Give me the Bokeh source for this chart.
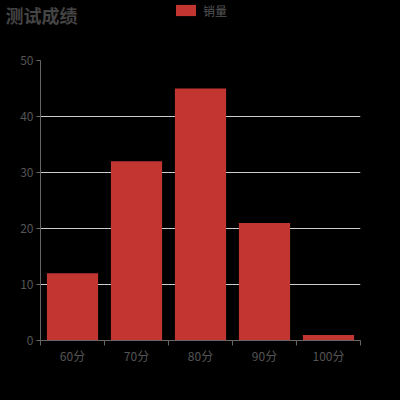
from bokeh.plotting import figure
from bokeh.layouts import column
from bokeh.models import (Range1d, LinearAxis, FixedTicker,
                          Legend, LegendItem, ColumnDataSource)
from bokeh.core.properties import value
from bokeh.embed import file_html
from bokeh.resources import INLINE

# ---- data ----
title_text = "测试成绩"
series_name = "销量"
categories = ["60分", "70分", "80分", "90分", "100分"]
values = [12, 32, 45, 21, 1]
y_ticks = [0, 10, 20, 30, 40, 50]

FONT = "Noto Sans CJK SC"
BAR = "#c23531"
TXT = "#555555"
AXL = "#666666"

n = len(categories)
centers = [i + 0.5 for i in range(n)]
src = ColumnDataSource(dict(x=centers, top=values, cat=categories))

# ---- header (title + legend); frame is aligned with the main frame (320px wide) ----
HH = 40
head = figure(width=400, height=HH, x_range=Range1d(0, 320), y_range=Range1d(HH, 0),
              output_backend="svg", toolbar_location=None,
              x_axis_location=None, y_axis_location=None, min_border=0,
              styles={"margin-left": "-35px"})
head.background_fill_color = "black"
head.border_fill_color = "black"
head.outline_line_color = None
head.grid.visible = False
head.text(x=[0], y=[1], text=[title_text], text_font=value(FONT), text_font_style="bold",
          text_font_size="18px", text_color="#444444", text_baseline="top", text_align="left")
swatch = head.vbar(x="x", top=0, bottom=0, width=0.8, source=src, fill_color=BAR,
                   line_color=None, border_radius=4)
legend = Legend(items=[LegendItem(label=series_name, renderers=[swatch])],
                location=(168, HH - 18.7), orientation="horizontal", padding=0, margin=0,
                border_line_color=None, background_fill_alpha=0, glyph_width=25, glyph_height=14,
                label_height=14, label_standoff=5, label_text_font=FONT,
                label_text_font_size="12px", label_text_color=TXT, label_text_baseline="middle")
head.add_layout(legend, "center")

# ---- main chart ----
p = figure(width=400, height=360, x_range=Range1d(0, n),
           y_range=Range1d(0, 50), output_backend="svg", toolbar_location=None,
           x_axis_location=None, y_axis_location=None,
           min_border_left=40, min_border_right=40, min_border_top=20, min_border_bottom=60)
p.background_fill_color = "black"
p.border_fill_color = "black"
p.outline_line_color = None

p.vbar(x="x", top="top", width=0.8, source=src, fill_color=BAR, line_color=None)

yax = LinearAxis(ticker=FixedTicker(ticks=y_ticks))
yax.axis_line_color = AXL
yax.major_tick_line_color = AXL
yax.major_tick_out = 4
yax.major_tick_in = 0
yax.minor_tick_line_color = None
yax.major_label_text_color = TXT
yax.major_label_text_font = FONT
yax.major_label_text_font_size = "12px"
yax.major_label_standoff = 3
p.add_layout(yax, "left")

xax = LinearAxis(ticker=FixedTicker(ticks=centers, minor_ticks=list(range(n + 1))))
xax.major_label_overrides = {c: lab for c, lab in zip(centers, categories)}
xax.axis_line_color = AXL
xax.major_tick_line_color = None
xax.major_tick_out = 5
xax.major_tick_in = 0
xax.minor_tick_line_color = AXL
xax.minor_tick_out = 5
xax.minor_tick_in = 0
xax.major_label_text_color = TXT
xax.major_label_text_font = FONT
xax.major_label_text_font_size = "12px"
xax.major_label_standoff = 1
p.add_layout(xax, "below")

p.xgrid.visible = False
p.ygrid.ticker = FixedTicker(ticks=y_ticks)
p.ygrid.grid_line_color = "#cccccc"
p.ygrid.grid_line_width = 1

layout = column(head, p, spacing=0)
layout.background = "black"

html = file_html(layout, INLINE)
html = html.replace("<head>", "<head><style>html,body{background:#000;}</style>", 1)
open("out.html", "w").write(html)
